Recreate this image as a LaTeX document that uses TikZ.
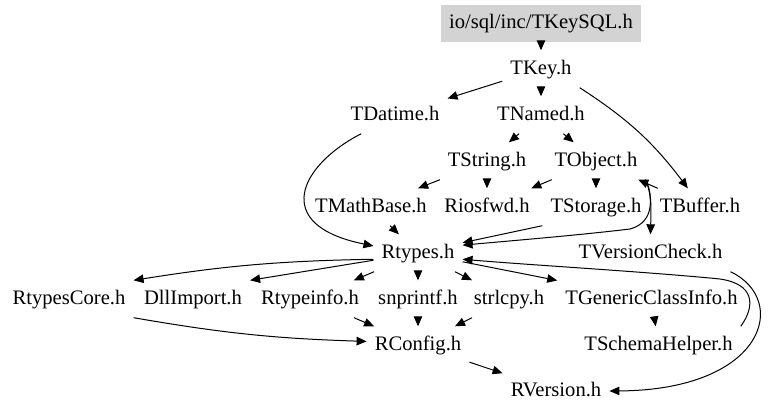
\documentclass[tikz,border=0pt]{standalone}
\usepackage{fontspec}
\setmainfont{Liberation Serif}
\usetikzlibrary{arrows.meta}
\definecolor{boxgray}{RGB}{211,211,211}
\tikzset{
  hdr/.style={rectangle, inner xsep=8pt, inner ysep=0pt, minimum height=37pt,
    text height=14pt, text depth=4pt, font=\fontsize{20.6}{24}\selectfont},
  root/.style={hdr, fill=boxgray},
  dep/.style={-{Triangle[length=10pt,width=8.5pt]}, line width=1pt, black},
}
\begin{document}
\begin{tikzpicture}[x=1pt,y=-1pt]
\useasboundingbox (0,0) rectangle (768,415);
\node[root] (sql) at (541,23) {io/sql/inc/TKeySQL.h};
\node[hdr] (key) at (541,69) {TKey.h};
\node[hdr] (datime) at (395,115) {TDatime.h};
\node[hdr] (named) at (541,115) {TNamed.h};
\node[hdr] (string) at (487,161) {TString.h};
\node[hdr] (object) at (596,161) {TObject.h};
\node[hdr] (mathbase) at (371,207) {TMathBase.h};
\node[hdr] (iosfwd) at (487,207) {Riosfwd.h};
\node[hdr] (storage) at (596,207) {TStorage.h};
\node[hdr] (buffer) at (700,207) {TBuffer.h};
\node[hdr] (rtypes) at (418,253) {Rtypes.h};
\node[hdr] (vcheck) at (650.5,253) {TVersionCheck.h};
\node[hdr] (core) at (69,299) {RtypesCore.h};
\node[hdr] (dll) at (193,299) {DllImport.h};
\node[hdr] (typeinfo) at (310,299) {Rtypeinfo.h};
\node[hdr] (snprintf) at (418,299) {snprintf.h};
\node[hdr] (strlcpy) at (509,299) {strlcpy.h};
\node[hdr] (gci) at (651.5,299) {TGenericClassInfo.h};
\node[hdr] (config) at (418,345) {RConfig.h};
\node[hdr] (schema) at (658.5,345) {TSchemaHelper.h};
\node[hdr] (version) at (556,391) {RVersion.h};

\draw[dep] (sql) -- (key);
\draw[dep] (key) -- (datime);
\draw[dep] (key) -- (named);
\draw[dep] (key.south east) to[bend left=10] (buffer.123);
\draw[dep] (named) -- (string);
\draw[dep] (named) -- (object);
\draw[dep] (string) -- (mathbase);
\draw[dep] (string) -- (iosfwd);
\draw[dep] (object) -- (iosfwd);
\draw[dep] (object) -- (storage);
\draw[dep] (buffer) -- (object);
\draw[dep] (object.south east) .. controls (652,190) and (651,210) .. (vcheck.north);
\draw[dep] (object.south east) .. controls (652,195) and (656,222) .. (630,229)
  .. controls (580,235) and (520,240) .. (rtypes.10);
\draw[dep] (storage.south west) -- (rtypes.13);
\draw[dep] (mathbase) -- (rtypes);
\draw[dep] (datime.-151) .. controls (300,165) and (270,225) .. (rtypes.171);
\draw[dep] (rtypes.188) to[bend right=4] (core.north east);
\draw[dep] (rtypes) -- (dll.north east);
\draw[dep] (rtypes) -- (typeinfo);
\draw[dep] (rtypes) -- (snprintf);
\draw[dep] (rtypes) -- (strlcpy);
\draw[dep] (rtypes) -- (gci);
\draw[dep] (schema.north east) .. controls (756,305) and (754,284) .. (720,279)
  .. controls (650,272) and (530,265) .. (rtypes.-8);
\draw[dep] (vcheck.south east) .. controls (790,300) and (765,390) .. (version.east);
\draw[dep] (core.south east) to[bend right=4] (config.176);
\draw[dep] (typeinfo) -- (config);
\draw[dep] (snprintf) -- (config);
\draw[dep] (strlcpy) -- (config);
\draw[dep] (gci) -- (schema);
\draw[dep] (config) -- (version);
\end{tikzpicture}
\end{document}
